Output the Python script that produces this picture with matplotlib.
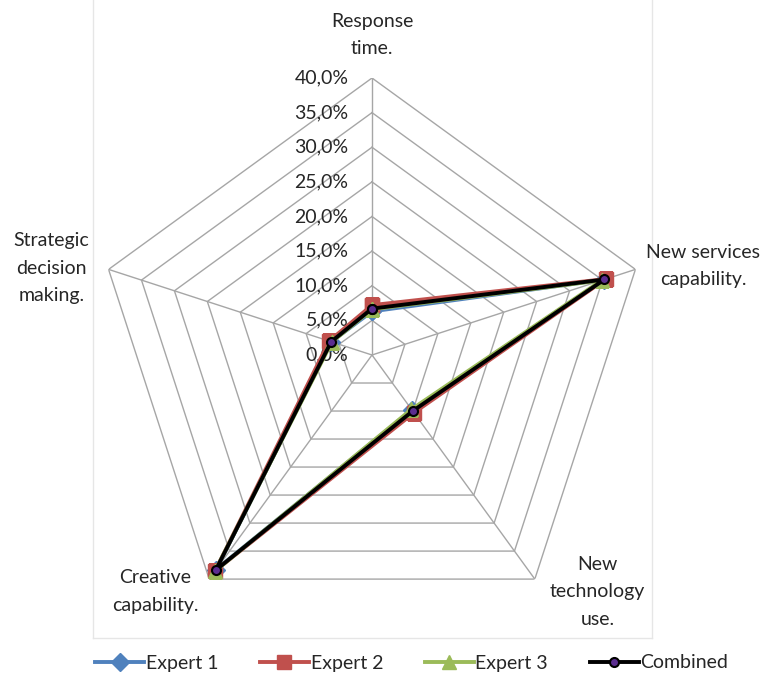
import numpy as np
import matplotlib
matplotlib.use('Agg')
import matplotlib.pyplot as plt
from matplotlib.lines import Line2D

# categorias (sentido horario desde arriba)
categories = ['Response\ntime.', 'New services\ncapability.', 'New\ntechnology\nuse.',
              'Creative\ncapability.', 'Strategic\ndecision\nmaking.']
tick_values = [0, 5, 10, 15, 20, 25, 30, 35, 40]
tick_labels = ['0,0%', '5,0%', '10,0%', '15,0%', '20,0%', '25,0%', '30,0%', '35,0%', '40,0%']

# pesos (%)
expert1 = [6.3, 35.2, 9.8, 38.3, 6.2]
expert2 = [7.2, 35.5, 10.3, 38.5, 6.5]
expert3 = [6.6, 34.9, 9.7, 38.6, 6.1]
combined = [6.7, 35.3, 10.0, 38.4, 6.2]

plt.rcParams['font.family'] = ['Lato', 'DejaVu Sans']
txt_color = '#262626'
grid_color = '#a6a6a6'
fs = 14

fig = plt.figure(figsize=(7.74, 6.77), dpi=100)
ax = fig.add_axes([95 / 774, 45 / 677, 554 / 774, 554 / 677], projection='polar')
ax.set_theta_offset(np.pi / 2)
ax.set_theta_direction(-1)
ax.set_ylim(0, 40)
ax.axis('off')

n = len(categories)
angles = np.arange(n) * 2 * np.pi / n
closed = np.append(angles, angles[0])

# rejilla poligonal
for v in tick_values[1:]:
    ax.plot(closed, [v] * (n + 1), color=grid_color, lw=1, zorder=1)
for a in angles:
    ax.plot([a, a], [0, 40], color=grid_color, lw=1, zorder=1)

# etiquetas del eje radial
for v, lab in zip(tick_values, tick_labels):
    ax.annotate(lab, xy=(0, v), xytext=(-17, 0), textcoords='offset points',
                ha='right', va='center', fontsize=fs, color=txt_color)

# etiquetas de categorias (desplazamientos en puntos)
offsets = [(0, 31), (49, 2.5), (45, -9), (-39, -9), (-41, 1)]
for i, off in enumerate(offsets):
    ax.annotate(categories[i], xy=(angles[i], 40), xytext=off, textcoords='offset points',
                ha='center', va='center', fontsize=fs, color=txt_color, linespacing=1.75,
                multialignment='center')

series = [
    ('Expert 1', expert1, '#4f81bd', 'D', 9),
    ('Expert 2', expert2, '#c0504d', 's', 10),
    ('Expert 3', expert3, '#9bbb59', '^', 10),
]
for name, vals, col, mk, ms in series:
    ax.plot(closed, vals + vals[:1], color=col, lw=2.8, marker=mk, markersize=ms,
            markerfacecolor=col, markeredgecolor=col, label=name, zorder=3)
ax.plot(closed, combined + combined[:1], color='black', lw=2.8, marker='o', markersize=6.5,
        markerfacecolor='#5b2d90', markeredgecolor='black', markeredgewidth=1.5,
        label='Combined', zorder=4)

# marco del area de trazado
for xs, ys in [([93, 93], [0, 638]), ([652, 652], [0, 638]), ([93, 652], [638, 638])]:
    fig.add_artist(Line2D([x / 774 for x in xs], [1 - y / 677 for y in ys],
                          color='#e6e6e6', lw=1, zorder=0))

handles, labels = ax.get_legend_handles_labels()
fig.legend(handles, labels, loc='center', bbox_to_anchor=(0.532, 1 - 663 / 677), ncol=4,
           frameon=False, fontsize=fs, handlelength=2.5, columnspacing=2.15,
           handletextpad=0.1, labelcolor=txt_color)

fig.savefig('out.png', dpi=100)
